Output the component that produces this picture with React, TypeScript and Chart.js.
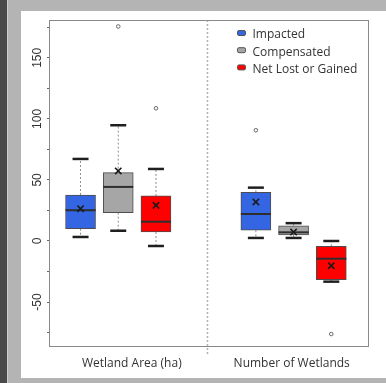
import React, { useEffect, useRef } from 'react';
import { Chart, registerables } from 'chart.js';

Chart.register(...registerables);

// ---- data ----
const seriesNames = ['Impacted', 'Compensated', 'Net Lost or Gained'];
const seriesColors = ['#3465e2', '#a6a6a6', '#ff0000'];
const groupLabels = ['Wetland Area (ha)', 'Number of Wetlands'];
const groupLabelPositions = [2.36, 6.6];
const separatorPosition = 4.36;
// x position of each box: [series][group]
const boxPositions = [[1, 5.65], [2, 6.65], [3, 7.65]];
const whiskerLow = [[3.3, 2.5], [8.4, 2.5], [-4.1, -33.3]];
const quartile1 = [[10.1, 8.8], [23.2, 4.9], [7.4, -31.7]];
const medians = [[25.2, 22.1], [44.3, 7.1], [15.8, -14.5]];
const quartile3 = [[37.7, 39.9], [56.0, 12.5], [36.9, -4.4]];
const whiskerHigh = [[67.2, 43.7], [94.8, 14.6], [59.0, 0.0]];
const means = [[26.5, 32.0], [57.4, 7.3], [29.2, -20.2]];
const outliers = [[[], [90.7]], [[175.7], []], [[108.7], [-76.2]]];
const yTickValues = [-75, -50, -25, 0, 25, 50, 75, 100, 125, 150, 175];
const yMin = -86;
const yMax = 181;
const xMin = 0.19;
const xMax = 8.65;

const groups = [0, 1];
const seriesIdx = [0, 1, 2];

function pts(stat: number[][]) {
  const out: { x: number; y: number }[] = [];
  seriesIdx.forEach((s) => groups.forEach((g) => out.push({ x: boxPositions[s][g], y: stat[s][g] })));
  return out;
}

const framePlugin = {
  id: 'framePlugin',
  beforeDatasetsDraw(chart: any) {
    const { ctx, chartArea, scales } = chart;
    ctx.save();
    // separator
    const sx = Math.round(scales.x.getPixelForValue(separatorPosition)) + 0.5;
    ctx.strokeStyle = '#b0b0b0';
    ctx.lineWidth = 1.5;
    ctx.setLineDash([2, 2]);
    ctx.beginPath();
    ctx.moveTo(sx, chartArea.top);
    ctx.lineTo(sx, chartArea.bottom + 8);
    ctx.stroke();
    ctx.restore();
  },
  afterDraw(chart: any) {
    const { ctx, chartArea } = chart;
    ctx.save();
    // plot box
    ctx.strokeStyle = '#8a8a8a';
    ctx.lineWidth = 1;
    ctx.strokeRect(
      Math.round(chartArea.left) - 0.5,
      Math.round(chartArea.top) + 0.5,
      Math.round(chartArea.right - chartArea.left),
      Math.round(chartArea.bottom - chartArea.top)
    );
    // legend
    const rectX = chartArea.right - 132;
    const textX = rectX + 15.5;
    let y = chartArea.top + 15;
    ctx.font = '12px "Open Sans", sans-serif';
    ctx.textBaseline = 'middle';
    ctx.textAlign = 'left';
    seriesNames.forEach((name, i) => {
      ctx.fillStyle = seriesColors[i];
      ctx.strokeStyle = '#555555';
      ctx.lineWidth = 1;
      ctx.beginPath();
      (ctx as any).roundRect(rectX + 0.5, y - 4.5, 8, 5, 1.5);
      ctx.fill();
      ctx.stroke();
      ctx.fillStyle = '#333333';
      ctx.fillText(name, textX, y);
      y += 17.2;
    });
    ctx.restore();
  },
};

export default function App() {
  const canvasRef = useRef<HTMLCanvasElement | null>(null);

  useEffect(() => {
    if (!canvasRef.current) return;

    const whiskerData: { x: number; y: number | null }[] = [];
    seriesIdx.forEach((s) =>
      groups.forEach((g) => {
        const x = boxPositions[s][g];
        whiskerData.push({ x, y: quartile3[s][g] }, { x, y: whiskerHigh[s][g] }, { x, y: null });
        whiskerData.push({ x, y: quartile1[s][g] }, { x, y: whiskerLow[s][g] }, { x, y: null });
      })
    );

    const outlierData: { x: number; y: number }[] = [];
    seriesIdx.forEach((s) =>
      groups.forEach((g) => outliers[s][g].forEach((v) => outlierData.push({ x: boxPositions[s][g], y: v })))
    );

    const boxDatasets = seriesIdx.map((s) => ({
      type: 'bar' as const,
      label: seriesNames[s],
      data: groups.map((g) => ({ x: boxPositions[s][g], y: [quartile1[s][g], quartile3[s][g]] })),
      backgroundColor: seriesColors[s],
      borderColor: '#4d4d4d',
      borderWidth: 1,
      borderSkipped: false,
      barThickness: 30,
      grouped: false,
      order: 4,
    }));

    const chart = new Chart(canvasRef.current, {
      type: 'bar',
      data: {
        datasets: [
          {
            type: 'scatter',
            label: 'whiskers',
            data: whiskerData as any,
            showLine: true,
            spanGaps: false,
            pointRadius: 0,
            borderColor: '#8c8c8c',
            borderWidth: 1,
            borderDash: [2, 2],
            order: 5,
          } as any,
          ...boxDatasets,
          {
            type: 'scatter',
            label: 'median',
            data: pts(medians),
            pointStyle: 'line',
            pointRadius: 15,
            borderWidth: 2,
            borderColor: '#2e2e2e',
            order: 3,
          },
          {
            type: 'scatter',
            label: 'caps',
            data: [...pts(whiskerLow), ...pts(whiskerHigh)],
            pointStyle: 'line',
            pointRadius: 8,
            borderWidth: 2.5,
            borderColor: '#1f1f1f',
            order: 2,
          },
          {
            type: 'scatter',
            label: 'mean',
            data: pts(means),
            pointStyle: 'crossRot',
            pointRadius: 4.5,
            borderWidth: 1.6,
            borderColor: '#1a1a1a',
            order: 1,
          },
          {
            type: 'scatter',
            label: 'outliers',
            data: outlierData,
            pointStyle: 'circle',
            pointRadius: 1.8,
            borderWidth: 1,
            borderColor: '#666666',
            backgroundColor: '#ffffff',
            order: 0,
          },
        ],
      },
      options: {
        animation: false,
        responsive: false,
        devicePixelRatio: 1,
        layout: { padding: { left: 0, top: 20, right: 17, bottom: 7 } },
        plugins: { legend: { display: false }, tooltip: { enabled: false } },
        scales: {
          x: {
            type: 'linear',
            offset: false,
            min: xMin,
            max: xMax,
            afterBuildTicks: (scale: any) => {
              scale.ticks = groupLabelPositions.map((v) => ({ value: v }));
            },
            afterFit: (scale: any) => {
              scale.height = 30;
            },
            grid: { display: false, drawTicks: false, offset: false },
            border: { display: false },
            ticks: {
              autoSkip: false,
              maxRotation: 0,
              minRotation: 0,
              padding: 10,
              color: '#333333',
              font: { family: '"Open Sans", sans-serif', size: 12 },
              callback: (_v: any, i: number) => groupLabels[i],
            },
          },
          y: {
            type: 'linear',
            min: yMin,
            max: yMax,
            afterBuildTicks: (scale: any) => {
              scale.ticks = yTickValues.map((v) => ({ value: v }));
            },
            afterFit: (scale: any) => {
              scale.width = 50;
            },
            grid: { drawOnChartArea: false, drawTicks: true, tickLength: 3, color: '#666666' },
            border: { display: false },
            ticks: {
              autoSkip: false,
              minRotation: 90,
              maxRotation: 90,
              crossAlign: 'center',
              padding: -1,
              color: '#333333',
              font: { family: '"Liberation Sans", Arial, sans-serif', size: 12 },
              callback: (v: any) => (Number(v) % 50 === 0 ? String(v) : ''),
            },
          },
        },
      } as any,
      plugins: [framePlugin],
    });

    return () => chart.destroy();
  }, []);

  return (
    <div style={{ position: 'fixed', left: 0, top: 0, width: 386, height: 383, background: '#b4b4b4', overflow: 'hidden' }}>
      <div style={{ position: 'absolute', left: 0, top: 0, width: 7, height: 383, background: '#4a4a4a' }} />
      <div style={{ position: 'absolute', left: 7, top: 0, width: 1, height: 383, background: '#cfcfcf' }} />
      <div style={{ position: 'absolute', left: 21, top: 11, width: 365, height: 367, background: '#ffffff' }} />
      <canvas
        ref={canvasRef}
        width={386}
        height={383}
        style={{ position: 'absolute', left: 0, top: 0, width: 386, height: 383, display: 'block' }}
      />
    </div>
  );
}
